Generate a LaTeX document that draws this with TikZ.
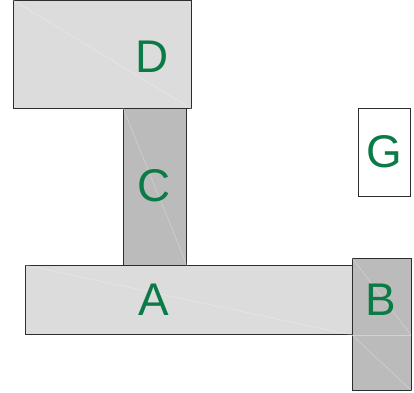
\documentclass[tikz,border=0pt]{standalone}
\usepackage{fontspec}
\setmainfont{Liberation Sans}
\usepackage{xcolor}
\definecolor{blklight}{RGB}{220,220,220}
\definecolor{blkdark}{RGB}{187,187,187}
\definecolor{blkedge}{RGB}{45,45,45}
\definecolor{lblgreen}{RGB}{10,122,70}
\usetikzlibrary{positioning}

\tikzset{
  block/.style={rectangle,draw=blkedge,line width=1.3pt,inner sep=0pt,anchor=north west},
  lightblock/.style={block,fill=blklight},
  darkblock/.style={block,fill=blkdark},
  emptyblock/.style={block,fill=white},
  letter/.style={text=lblgreen,inner sep=0pt,font=\fontsize{46}{46}\selectfont},
  seam/.style={white,opacity=0.35,line width=0.5pt}
}

\begin{document}
\begin{tikzpicture}[x=1bp,y=-1bp]
  \useasboundingbox (0,0) rectangle (414,393);
  % Blocks
  \node[lightblock,minimum width=178bp,minimum height=108bp] (D) at (13,0) {};
  \node[darkblock,minimum width=63bp,minimum height=157bp]  (C) at (123,108) {};
  \node[lightblock,minimum width=327bp,minimum height=69bp] (A) at (25,265) {};
  \node[darkblock,minimum width=59bp,minimum height=132bp]  (B) at (352,258) {};
  \node[emptyblock,minimum width=52bp,minimum height=88bp]  (G) at (358,108) {};
  % Faint seams
  \draw[seam] (D.north west) -- (D.south east);
  \draw[seam] (C.north west) -- (C.south east);
  \draw[seam] (A.north west) -- (A.south east);
  \coordinate (Bmidw) at (352,335);
  \coordinate (Bmide) at (411,335);
  \draw[seam] (Bmidw) -- (Bmide);
  \draw[seam] (B.north west) -- (Bmide);
  \draw[seam] (Bmidw) -- (B.south east);
  % Labels
  \node[letter] (Dlbl) at (152,57) {D};
  \node[letter] (Clbl) at (154,186) {C};
  \node[letter] (Albl) at (154,300) {A};
  \node[letter] (Blbl) at (381,300) {B};
  \node[letter] (Glbl) at (384,152) {G};
\end{tikzpicture}
\end{document}
